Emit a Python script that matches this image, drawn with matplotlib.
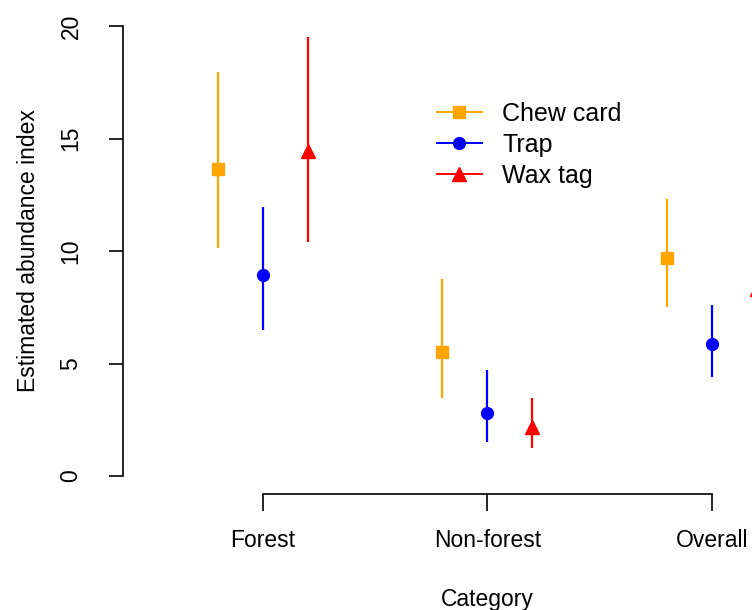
import numpy as np
import matplotlib
matplotlib.use('Agg')
import matplotlib.pyplot as plt

plt.rcParams['font.family'] = ['Liberation Sans', 'DejaVu Sans']

categories = ['Forest', 'Non-forest', 'Overall']
methods = ['Chew card', 'Trap', 'Wax tag']
colors = ['#FFA500', '#0000FF', '#FF0000']
markers = ['s', 'o', '^']

# estimate, lower, upper for each method across the categories
chew_est = [13.65, 5.5, 9.7]
chew_lo = [10.15, 3.45, 7.5]
chew_hi = [17.95, 8.75, 12.3]
trap_est = [8.95, 2.78, 5.85]
trap_lo = [6.5, 1.53, 4.41]
trap_hi = [11.95, 4.72, 7.62]
wax_est = [14.45, 2.2, 8.3]
wax_lo = [10.4, 1.25, 5.8]
wax_hi = [19.5, 3.45, 11.3]

est = [chew_est, trap_est, wax_est]
lo = [chew_lo, trap_lo, wax_lo]
hi = [chew_hi, trap_hi, wax_hi]
offsets = [-0.2, 0.0, 0.2]
msizes = [8, 8.5, 9.5]

fig = plt.figure(figsize=(7.52, 6.10), dpi=100)
ax = fig.add_axes([122.7 / 752, 116 / 610, (852 - 122.7) / 752, 486 / 610])

xpos = np.arange(1, len(categories) + 1)
for i in range(len(methods)):
    x = xpos + offsets[i]
    e = np.array(est[i])
    ax.vlines(x, lo[i], hi[i], color=colors[i], lw=1.6)
    ax.plot(x, e, linestyle='none', marker=markers[i], color=colors[i],
            markersize=msizes[i], label=methods[i])

ax.set_xlim(0.375, 3.625)
ax.set_ylim(-0.8, 20.8)

for s in ['top', 'right']:
    ax.spines[s].set_visible(False)
ax.spines['left'].set_bounds(0, 20)
ax.spines['bottom'].set_bounds(1, 3)
ax.spines['left'].set_linewidth(1.2)
ax.spines['bottom'].set_linewidth(1.2)

ax.set_yticks([0, 5, 10, 15, 20])
ax.set_xticks(xpos)
ax.set_xticklabels(categories)
ax.tick_params(axis='y', length=10, width=1.2, labelsize=16.5, pad=19,
               labelrotation=90)
for t in ax.get_yticklabels():
    t.set_verticalalignment('center')
ax.tick_params(axis='x', length=12, width=1.2, labelsize=16.5, pad=13)

ax.set_xlabel('Category', fontsize=16.5, labelpad=26)
ax.set_ylabel('Estimated abundance index', fontsize=16.5, labelpad=14)

# legend lines + markers (not error bars)
handles = [plt.Line2D([], [], color=colors[i], marker=markers[i],
                      markersize=msizes[i], lw=1.4) for i in range(3)]
fig.legend(handles, methods, loc='upper left', frameon=False,
           bbox_to_anchor=(437 / 752, 1 - 102 / 610), borderpad=0,
           borderaxespad=0, fontsize=18, handlelength=1.8,
           handletextpad=0.82, labelspacing=0.27)

fig.savefig('out.png', dpi=100)
